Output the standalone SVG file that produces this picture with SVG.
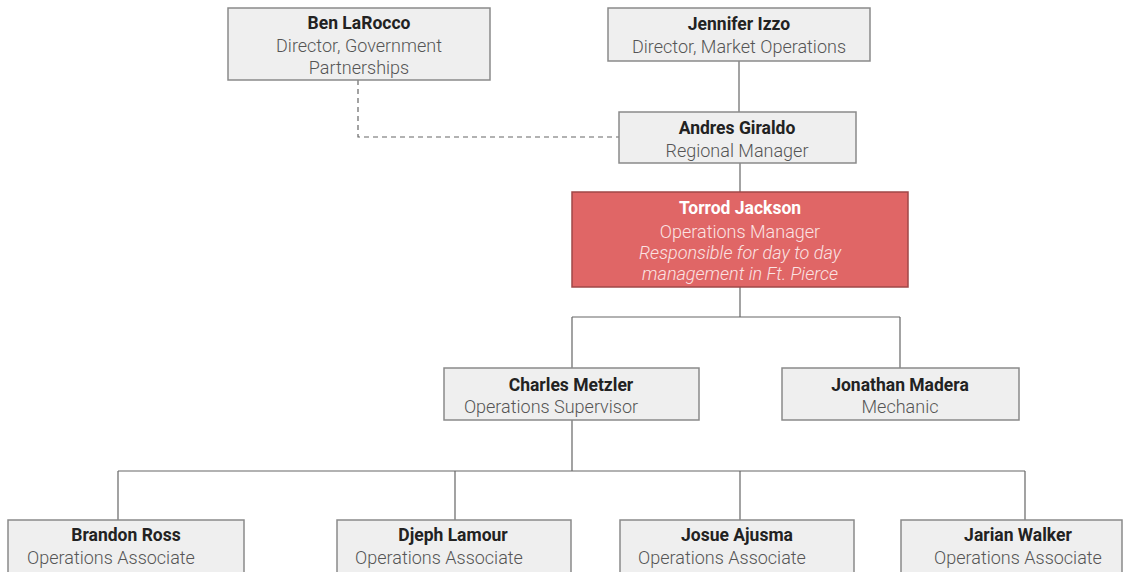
<svg xmlns="http://www.w3.org/2000/svg" width="1126" height="572" viewBox="0 0 1126 572">
<style>
.box{fill:#efefef;stroke:#8a8a8a;stroke-width:1.5}
.red{fill:#e06666;stroke:#a04848;stroke-width:1.5}
.n{font-family:Roboto,"Liberation Sans",sans-serif;font-size:17.5px;font-weight:bold;fill:#222;text-anchor:middle}
.t{font-family:Roboto,"Liberation Sans",sans-serif;font-size:18px;font-weight:300;fill:#555;text-anchor:middle}
.w{fill:#fff}
.wi{fill:#fbe3e3}
.i{font-style:italic}
.c{fill:none;stroke:#666;stroke-width:1.2}
.d{stroke-dasharray:5,4}
</style>
<rect width="1126" height="572" fill="#fff"/>
<g id="connectors">
<path class="c" d="M739 61V112"/>
<path class="c d" d="M358 80V137H619"/>
<path class="c" d="M740 163V192"/>
<path class="c" d="M740 287V317M572 317H900M572 317V368M900 317V368"/>
<path class="c" d="M572 420V471M118 471H1025M118 471V520M455 471V520M740 471V520M1025 471V520"/>
</g>
<g id="ben">
<rect class="box" x="228" y="8" width="262" height="72"/>
<text class="n" x="359" y="29">Ben LaRocco</text>
<text class="t" x="359" y="52">Director, Government</text>
<text class="t" x="359" y="74">Partnerships</text>
</g>
<g id="jennifer">
<rect class="box" x="608" y="8" width="262" height="53"/>
<text class="n" x="739" y="30">Jennifer Izzo</text>
<text class="t" x="739" y="53">Director, Market Operations</text>
</g>
<g id="andres">
<rect class="box" x="619" y="112" width="237" height="51"/>
<text class="n" x="737" y="134">Andres Giraldo</text>
<text class="t" x="737" y="157">Regional Manager</text>
</g>
<g id="torrod">
<rect class="red" x="572" y="192" width="336" height="95"/>
<text class="n w" x="740" y="214">Torrod Jackson</text>
<text class="t wi" x="740" y="238">Operations Manager</text>
<text class="t wi i" x="740" y="259">Responsible for day to day</text>
<text class="t wi i" x="740" y="280">management in Ft. Pierce</text>
</g>
<g id="charles">
<rect class="box" x="444" y="368" width="255" height="52"/>
<text class="n" x="571" y="391">Charles Metzler</text>
<text class="t" x="551" y="413">Operations Supervisor</text>
</g>
<g id="jonathan">
<rect class="box" x="782" y="368" width="237" height="52"/>
<text class="n" x="900" y="391">Jonathan Madera</text>
<text class="t" x="900" y="413">Mechanic</text>
</g>
<g id="brandon">
<rect class="box" x="8" y="520" width="236" height="60"/>
<text class="n" x="126" y="541">Brandon Ross</text>
<text class="t" x="111" y="564">Operations Associate</text>
</g>
<g id="djeph">
<rect class="box" x="337" y="520" width="234" height="60"/>
<text class="n" x="453" y="541">Djeph Lamour</text>
<text class="t" x="439" y="564">Operations Associate</text>
</g>
<g id="josue">
<rect class="box" x="620" y="520" width="234" height="60"/>
<text class="n" x="737" y="541">Josue Ajusma</text>
<text class="t" x="722" y="564">Operations Associate</text>
</g>
<g id="jarian">
<rect class="box" x="901" y="520" width="221" height="60"/>
<text class="n" x="1018" y="541">Jarian Walker</text>
<text class="t" x="1018" y="564">Operations Associate</text>
</g>
</svg>
